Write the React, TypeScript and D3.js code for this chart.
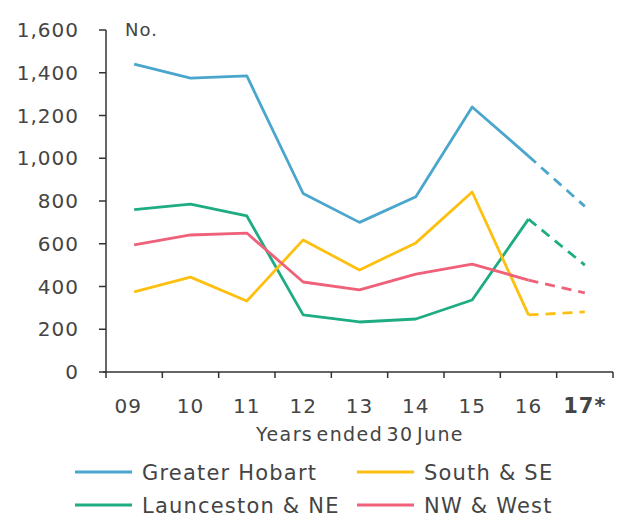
import React from "react";
import * as d3 from "d3";

const years = ["09", "10", "11", "12", "13", "14", "15", "16", "17*"];
const yTicks = [0, 200, 400, 600, 800, 1000, 1200, 1400, 1600];
const greaterHobart = [1440, 1375, 1385, 835, 700, 820, 1240, 1010, 775];
const launceston = [760, 785, 730, 267, 234, 248, 337, 715, 500];
const southSE = [375, 444, 332, 618, 477, 604, 842, 267, 281];
const nwWest = [595, 641, 650, 421, 384, 458, 505, 430, 370];

const series = [
  { name: "Greater Hobart", values: greaterHobart, color: "#4aa6cc" },
  { name: "Launceston & NE", values: launceston, color: "#1eac82" },
  { name: "South & SE", values: southSE, color: "#fdc010" },
  { name: "NW & West", values: nwWest, color: "#ef6079" },
];

const W = 619, H = 518;
const left = 106, right = 613, top = 30, bottom = 372;
const font = "'DejaVu Sans', sans-serif";
const textColor = "#444";

export default function App() {
  const x = d3.scaleBand<string>().domain(years).range([left, right]);
  const y = d3.scaleLinear().domain([0, 1600]).range([bottom, top]);
  const cx = (i: number) => (x(years[i]) as number) + x.bandwidth() / 2;
  const line = d3.line<number>().x((_, i) => cx(i)).y((d) => y(d));
  const solidN = 8;

  const legend = [
    { s: series[0], lx: 75, ly: 472 },
    { s: series[2], lx: 357, ly: 472 },
    { s: series[1], lx: 75, ly: 505 },
    { s: series[3], lx: 357, ly: 505 },
  ];

  return (
    <svg width={W} height={H} style={{ position: "absolute", left: 0, top: 0, background: "#fff" }}>
      {series.map((s) => (
        <g key={s.name}>
          <path d={line(s.values.slice(0, solidN)) || ""} fill="none" stroke={s.color} strokeWidth={2.8} strokeLinejoin="round" />
          <path
            d={
              d3
                .line<number>()
                .x((_, i) => cx(i + solidN - 1))
                .y((d) => y(d))(s.values.slice(solidN - 1)) || ""
            }
            fill="none"
            stroke={s.color}
            strokeWidth={2.8}
            strokeDasharray="10 7"
          />
        </g>
      ))}
      <line x1={left} x2={left} y1={top} y2={bottom} stroke="#333" strokeWidth={1.5} />
      {yTicks.map((t) => (
        <g key={t}>
          <line x1={left - 7} x2={left} y1={y(t)} y2={y(t)} stroke="#333" strokeWidth={1.5} />
          <text x={79} y={y(t)} dy="0.36em" textAnchor="end" fontFamily={font} fontSize={20} letterSpacing={1} fill={textColor}>
            {d3.format(",")(t)}
          </text>
        </g>
      ))}
      <text x={125} y={36} fontFamily={font} fontSize={18} letterSpacing={1} fill={textColor}>No.</text>
      <line x1={left - 3} x2={right} y1={bottom} y2={bottom} stroke="#333" strokeWidth={1.5} />
      {years.map((yr, i) => (
        <line key={"t" + i} x1={x(yr) as number} x2={x(yr) as number} y1={bottom} y2={bottom + 6} stroke="#333" strokeWidth={1.5} />
      ))}
      <line x1={right} x2={right} y1={bottom} y2={bottom + 6} stroke="#333" strokeWidth={1.5} />
      {years.map((yr, i) => (
        <text
          key={yr}
          x={cx(i) - (i === 0 ? 6 : 0)}
          y={413}
          textAnchor="middle"
          fontFamily={font}
          fontSize={yr === "17*" ? 21 : 20}
          fontWeight={yr === "17*" ? "bold" : "normal"}
          letterSpacing={1}
          fill={textColor}
        >
          {yr}
        </text>
      ))}
      <text x={360} y={441} textAnchor="middle" fontFamily={font} fontSize={19} fill={textColor} letterSpacing={1.4} wordSpacing={-4}>
        Years ended 30 June
      </text>
      {legend.map(({ s, lx, ly }) => (
        <g key={s.name}>
          <line x1={lx} x2={lx + 57} y1={ly} y2={ly} stroke={s.color} strokeWidth={2.8} />
          <text x={lx + 67} y={ly} dy="0.36em" fontFamily={font} fontSize={21} letterSpacing={1.2} fill={textColor}>
            {s.name}
          </text>
        </g>
      ))}
    </svg>
  );
}
